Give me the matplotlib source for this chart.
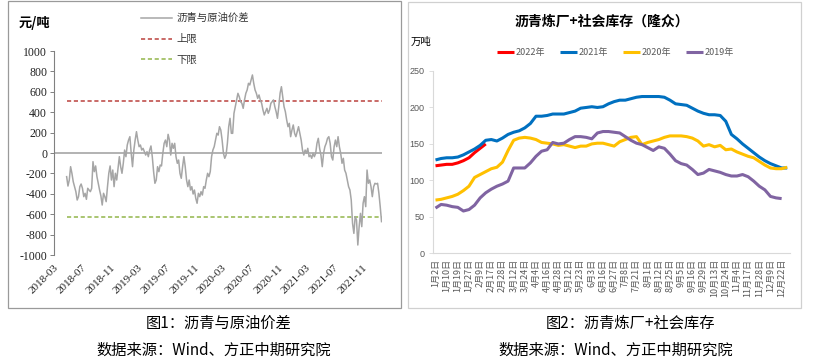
import matplotlib
matplotlib.use("Agg")
import numpy as np
import pandas as pd
from matplotlib import pyplot as plt
from matplotlib.patches import Rectangle

plt.rcParams['font.family'] = ['Noto Sans CJK SC', 'DejaVu Sans']
plt.rcParams['axes.unicode_minus'] = False

W, H = 815, 362

# ---- chart 1: asphalt / crude spread (yuan per tonne)
spreadStart = "2018-04-25"
spreadEnd = "2022-01-24"
spread = [
    -232, -324, -265, -134, -199, -281, -330, -379, -461, -428,
    -330, -304, -346, -428, -395, -454, -346, -363, -379, -346,
    -85, -183, -127, -232, -297, -363, -421, -510, -395, -428,
    -477, -330, -199, -127, -265, -167, -330, -199, -265, -150,
    -36, -134, -199, -101, 29, -36, 78, 127, 160, -3,
    -134, 29, 127, 209, 127, 62, 78, 29, 46, 13,
    -20, 13, -36, 29, 69, -36, -183, -297, -265, -134,
    -183, -118, -127, -3, 95, 127, 62, 183,
    127, -20, 95, 46, 95, -36, -101, -69, -199, -248,
    -134, -36, -134, -265, -330, -265, -363, -330, -402, -363,
    -444, -493, -395, -428, -379, -412, -330, -346, -265, -199,
    -232, -183, -36, 29, 62, 127, 193, 176, 258, 225,
    127, -3, -52, -20, 95, 258, 340, 193, 193, 389,
    454, 520, 585, 552, 503, 487, 438, 520, 585, 618,
    683, 667, 716, 765, 683, 618, 585, 536, 569, 520,
    487, 422, 373, 405, 438, 389, 422, 487,
    503, 520, 454, 405, 340, 454, 585, 650, 552, 454,
    405, 324, 258, 291, 160, 225, 275, 193, 160, 209,
    258, 193, 127, 29, -20, 29, -3, 46, -36, -20,
    -52, -3, -36, -3, 95, 144, 46, -20, -134, -3,
    62, 95, 144, 160, 95, -36, -69, 62, 127, 62,
    160, 62, -3, -101, -52, -167, -199, -265, -330, -363,
    -461, -690, -788, -624, -657, -902, -722, -592, -722, -493,
    -428, -526, -167, -297, -265, -330, -428, -330, -297, -304,
    -297, -395, -526, -673,
]
upperLimit = 510
lowerLimit = -625
spreadTicks = pd.date_range("2018-03-01", "2021-11-01", freq="4MS")

# ---- chart 2: refinery + social asphalt stocks (10k tonnes)
weekLabels = ["1月2日", "1月10日", "1月19日", "1月27日", "2月9日", "2月17日", "2月28日",
              "3月12日", "3月24日", "4月4日", "4月16日", "4月28日", "5月12日", "5月23日",
              "6月3日", "6月16日", "6月27日", "7月8日", "7月21日", "8月1日", "8月12日",
              "8月25日", "9月5日", "9月16日", "9月29日", "10月13日", "10月24日", "11月4日",
              "11月17日", "11月28日", "12月9日", "12月22日"]
stock2022 = [120, 121, 122, 122, 124, 127, 131, 138, 144, 150]
stock2021 = [128, 130, 131, 131, 132, 135, 139, 143, 148, 155,
             156, 154, 158, 163, 166, 168, 172, 178, 188, 188,
             189, 191, 191, 191, 193, 195, 199, 200, 201, 200,
             201, 205, 208, 210, 210, 212, 214, 215, 215, 215,
             215, 214, 210, 205, 204, 203, 199, 195, 192, 190,
             190, 189, 181, 163, 157, 150, 144, 138, 132, 127,
             123, 120, 117, 117]
stock2020 = [73, 74, 76, 78, 81, 86, 92, 104, 108, 112,
             116, 118, 125, 141, 155, 158, 159, 158, 156, 152,
             151, 150, 148, 149, 147, 145, 147, 147, 150, 151,
             151, 149, 147, 153, 156, 159, 160, 149, 152, 154,
             156, 159, 161, 161, 161, 160, 158, 154, 147, 149,
             146, 148, 142, 143, 139, 136, 133, 131, 126, 121,
             117, 116, 116, 118]
stock2019 = [62, 67, 66, 64, 63, 58, 60, 66, 76, 83,
             88, 92, 95, 99, 117, 117, 117, 124, 133, 140,
             142, 152, 150, 151, 156, 160, 160, 159, 157, 165,
             167, 167, 166, 165, 160, 155, 151, 149, 145, 141,
             146, 144, 136, 127, 123, 121, 115, 108, 110, 115,
             113, 111, 108, 106, 106, 108, 105, 99, 92, 87,
             78, 76, 75]
stockSeries = [("2022年", stock2022, "#FF0000"), ("2021年", stock2021, "#0070C0"),
               ("2020年", stock2020, "#FFC000"), ("2019年", stock2019, "#8064A2")]


def fx(x):
    return x / W


def fy(y):
    return 1 - y / H


fig = plt.figure(figsize=(W / 100, H / 100), dpi=100)

# panel frames
fig.add_artist(Rectangle((fx(8), fy(308)), (401 - 8) / W, (308 - 1) / H, transform=fig.transFigure,
                         fill=False, ec="#9a9a9a", lw=0.9))
fig.add_artist(Rectangle((fx(408), fy(308)), (801 - 408) / W, (308 - 2) / H, transform=fig.transFigure,
                         fill=False, ec="#d0d0d0", lw=0.9))

# ---------------- left chart
axL = fig.add_axes([fx(54), fy(255), (382 - 54) / W, (255 - 51) / H])
dates = pd.date_range(spreadStart, spreadEnd, periods=len(spread))
axL.axhline(0, color="#A6A6A6", lw=1.2, zorder=1)
axL.plot(dates, spread, color="#A6A6A6", lw=1.1, label="沥青与原油价差", zorder=3)
axL.plot([dates[0], dates[-1]], [upperLimit, upperLimit], color="#C0504D", lw=1.2,
         ls=(0, (2.5, 1.6)), label="上限", zorder=2)
axL.plot([dates[0], dates[-1]], [lowerLimit, lowerLimit], color="#9BBB59", lw=1.2,
         ls=(0, (2.5, 1.6)), label="下限", zorder=2)
axL.set_xlim(pd.Timestamp("2018-03-01"), pd.Timestamp("2022-01-26"))
axL.set_ylim(-1000, 1000)
axL.set_yticks(np.arange(-1000, 1001, 200))
axL.set_xticks(spreadTicks)
axL.set_xticklabels([d.strftime("%Y-%m") for d in spreadTicks], rotation=45, ha="right",
                    va="top", rotation_mode="anchor", family="Liberation Serif", fontsize=8)
for lab in axL.get_yticklabels():
    lab.set_family("Liberation Serif")
    lab.set_fontsize(8.5)
axL.tick_params(axis="x", length=0, pad=6, colors="#222222")
axL.tick_params(axis="y", length=3, width=0.7, color="#808080", pad=2, labelcolor="#222222")
for s in ["top", "right", "bottom"]:
    axL.spines[s].set_visible(False)
axL.spines["left"].set_color("#808080")
axL.spines["left"].set_linewidth(0.8)
axL.patch.set_alpha(0)
axL.legend(loc="upper left", bbox_to_anchor=(fx(141), fy(13)), bbox_transform=fig.transFigure,
           frameon=False, fontsize=7.5, handlelength=3.0, handletextpad=0.4, labelspacing=1.05,
           borderaxespad=0, borderpad=0, labelcolor="#333333")
fig.text(fx(19), fy(23), "元/吨", fontsize=9.5, weight="bold", va="center", ha="left")

# ---------------- right chart
axR = fig.add_axes([fx(432.7), fy(253.3), (790 - 432.7) / W, (253.3 - 71) / H])
for name, vals, col in stockSeries:
    axR.plot(np.arange(len(vals)), vals, color=col, lw=2.2, label=name, solid_capstyle="butt")
axR.set_xlim(-0.5, 63.5)
axR.set_ylim(0, 250)
axR.set_yticks(np.arange(0, 251, 50))
axR.set_xticks(np.arange(0, 2 * len(weekLabels), 2))
axR.set_xticklabels(weekLabels, rotation=90, ha="center", va="top", fontsize=6.5, color="#595959")
for lab in axR.get_yticklabels():
    lab.set_family("Liberation Sans")
    lab.set_fontsize(6.5)
    lab.set_color("#595959")
axR.tick_params(axis="x", length=0, pad=4)
axR.tick_params(axis="y", length=3, width=0.6, color="#D9D9D9", pad=3)
for s in ["top", "right"]:
    axR.spines[s].set_visible(False)
for s in ["left", "bottom"]:
    axR.spines[s].set_color("#D9D9D9")
    axR.spines[s].set_linewidth(0.8)
axR.patch.set_alpha(0)
axR.legend(loc="center left", bbox_to_anchor=(fx(497), fy(53)), bbox_transform=fig.transFigure,
           ncol=4, frameon=False, fontsize=6.5, handlelength=1.9, handletextpad=0.2,
           columnspacing=1.6, borderaxespad=0, borderpad=0, labelcolor="#595959")
fig.text(fx(602), fy(22), "沥青炼厂+社会库存（隆众）", fontsize=10, weight="bold",
         ha="center", va="center")
fig.text(fx(411), fy(42), "万吨", fontsize=7.5, ha="left", va="center")

# ---------------- captions
fig.text(fx(219), fy(323), "图1：沥青与原油价差", fontsize=11, ha="center", va="center")
fig.text(fx(214), fy(350), "数据来源：Wind、方正中期研究院", fontsize=11, ha="center", va="center")
fig.text(fx(630), fy(323), "图2：沥青炼厂+社会库存", fontsize=11, ha="center", va="center")
fig.text(fx(616), fy(350), "数据来源：Wind、方正中期研究院", fontsize=11, ha="center", va="center")

fig.savefig("out.png", dpi=100)
